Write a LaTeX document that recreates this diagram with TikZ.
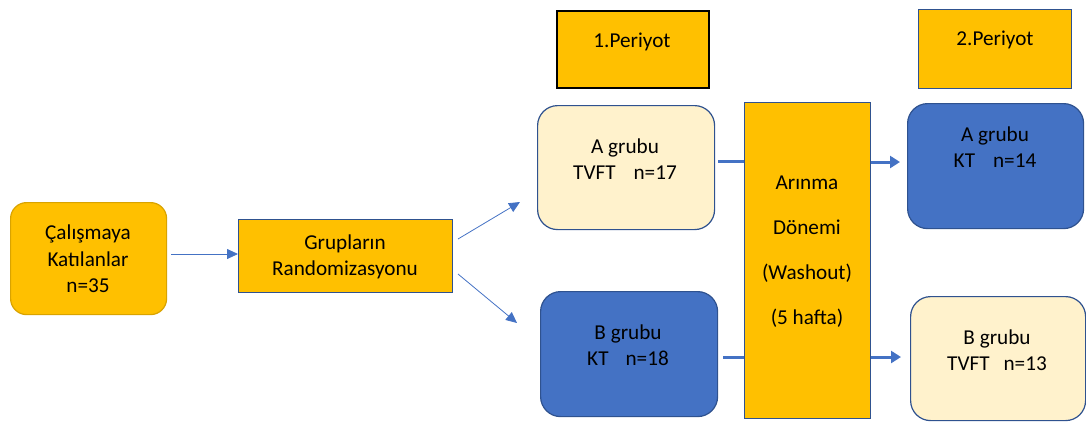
\documentclass[tikz,border=0pt]{standalone}
\usepackage{fontspec}
\setmainfont{Carlito}
\usetikzlibrary{arrows.meta}
\definecolor{gold}{HTML}{FFC000}
\definecolor{golddark}{HTML}{D9A300}
\definecolor{bluefill}{HTML}{4472C4}
\definecolor{blueline}{HTML}{2F528F}
\definecolor{cream}{HTML}{FFF2CC}
\tikzset{
  box/.style={draw=blueline, line width=1.2pt, inner sep=0pt, anchor=north west},
  txt/.style={font=\fontsize{21.2}{26.5}\selectfont, align=center, inner sep=0pt, text=black},
  thin/.style={draw=bluefill, line width=0.8pt, -{Triangle[length=11pt,width=10pt]}},
  thick/.style={draw=bluefill, line width=3pt},
  thickarr/.style={draw=bluefill, line width=3pt, -{Triangle[length=10pt,width=12pt]}}
}
\begin{document}
\begin{tikzpicture}[x=1pt,y=-1pt]
\useasboundingbox (0,0) rectangle (1086,424);
% left boxes
\node[box, draw=golddark, fill=gold, rounded corners=16pt, minimum width=156pt, minimum height=112pt] (cal) at (10,202) {};
\node[txt] (calt) at (88,259) {Çalışmaya\\Katılanlar\\n=35};
\node[box, fill=gold, minimum width=214pt, minimum height=73pt] (rand) at (238,219) {};
\node[txt] (randt) at (345,257) {Grupların\\Randomizasyonu};
% period 1
\node[box, fill=cream, rounded corners=20pt, minimum width=177pt, minimum height=124pt] (a1) at (537,105) {};
\node[txt] (a1t) at (625,159) {A grubu\\TVFT\hspace{18pt}n=17};
\node[box, fill=bluefill, rounded corners=20pt, minimum width=177pt, minimum height=125pt] (b1) at (540,291) {};
\node[txt] (b1t) at (628,345) {B grubu\\KT\hspace{17pt}n=18};
% washout
\node[box, fill=gold, minimum width=126pt, minimum height=316pt] (wash) at (744,102) {};
\node[txt, font=\fontsize{21.2}{45}\selectfont] (washt) at (807,252) {Arınma\\Dönemi\\(Washout)\\(5 hafta)};
% period 2
\node[box, fill=bluefill, rounded corners=20pt, minimum width=176pt, minimum height=125pt] (a2) at (907,103) {};
\node[txt] (a2t) at (995,147) {A grubu\\KT\hspace{18pt}n=14};
\node[box, fill=cream, rounded corners=20pt, minimum width=175pt, minimum height=124pt] (b2) at (910,296) {};
\node[txt] (b2t) at (997,350) {B grubu\\TVFT\hspace{14pt}n=13};
% headers
\node[box, draw=black, line width=1.6pt, fill=gold, minimum width=152pt, minimum height=77pt] (p1) at (556,10) {};
\node[txt] (p1t) at (632,42) {1.Periyot};
\node[box, fill=gold, minimum width=153pt, minimum height=79pt] (p2) at (918,9) {};
\node[txt] (p2t) at (995,40) {2.Periyot};
% connectors
\coordinate (r1) at (458,239);
\coordinate (r2) at (458,274);
\coordinate (ea) at (900,162);
\coordinate (eb) at (901,357);
\draw[thin] (cal.east |- 0,254) ++(4,0) -- (rand.west |- 0,254);
\draw[thin] (r1) -- (520,202);
\draw[thin] (r2) -- (517,323);
\draw[thick] (a1.east |- 0,161) ++(3,0) -- (wash.west |- 0,161);
\draw[thick] (b1.east |- 0,357) ++(5,0) -- (wash.west |- 0,357);
\draw[thickarr] (wash.east |- 0,162) -- (ea);
\draw[thickarr] (wash.east |- 0,357) -- (eb);
\end{tikzpicture}
\end{document}
